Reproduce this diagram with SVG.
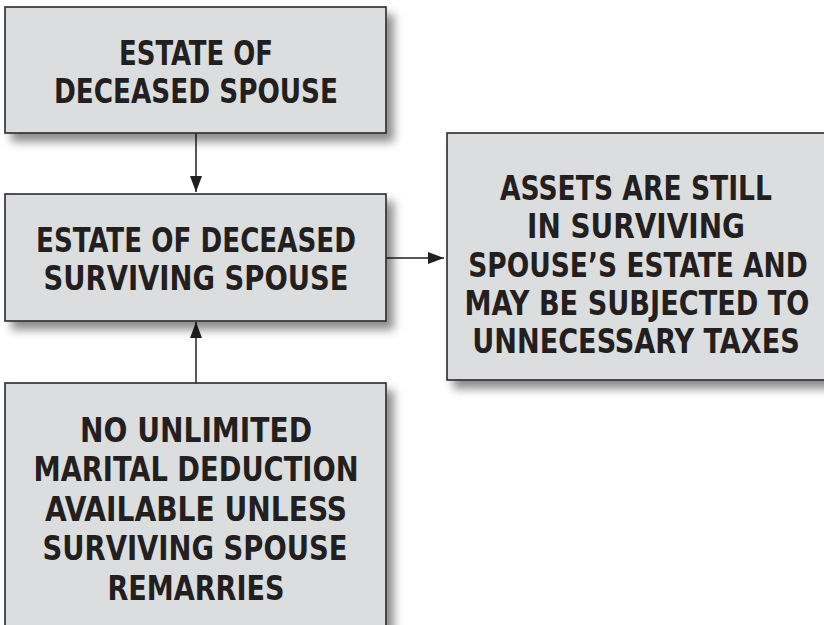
<svg xmlns="http://www.w3.org/2000/svg" width="824" height="625" viewBox="0 0 824 625">
<style>
.box{fill:#dcdddf;stroke:#2b2b2b;stroke-width:1.6;filter:url(#sh)}
.t{font-family:"DejaVu Sans Condensed","DejaVu Sans",sans-serif;font-stretch:condensed;font-weight:bold;font-size:33px;fill:#231f20;text-anchor:middle}
.c{stroke:#231f20;stroke-width:1.5;fill:none;marker-end:url(#ah)}
</style>
<defs>
<filter id="sh" x="-10%" y="-10%" width="130%" height="130%">
<feDropShadow dx="7" dy="8" stdDeviation="5" flood-color="#000" flood-opacity="0.45"/>
</filter>
<marker id="ah" viewBox="0 0 16 12" refX="16" refY="6" markerWidth="16" markerHeight="12" markerUnits="userSpaceOnUse" orient="auto">
<path d="M0,0 L16,6 L0,12 Z" fill="#231f20"/>
</marker>
</defs>
<rect width="824" height="625" fill="#ffffff"/>
<g id="connectors">
<line class="c" x1="196" y1="133" x2="196" y2="192"/>
<line class="c" x1="386" y1="258" x2="444" y2="258"/>
<line class="c" x1="196" y1="383" x2="196" y2="322"/>
</g>
<g id="node-deceased">
<rect class="box" x="5" y="7" width="381" height="126"/>
<text class="t" x="196" y="65" textLength="154" lengthAdjust="spacingAndGlyphs">ESTATE OF</text>
<text class="t" x="196" y="103" textLength="284" lengthAdjust="spacingAndGlyphs">DECEASED SPOUSE</text>
</g>
<g id="node-surviving">
<rect class="box" x="5" y="194" width="381" height="127"/>
<text class="t" x="196" y="252" textLength="320" lengthAdjust="spacingAndGlyphs">ESTATE OF DECEASED</text>
<text class="t" x="196" y="290" textLength="305" lengthAdjust="spacingAndGlyphs">SURVIVING SPOUSE</text>
</g>
<g id="node-assets">
<rect class="box" x="447" y="133" width="390" height="247"/>
<text class="t" x="636" y="200" textLength="272" lengthAdjust="spacingAndGlyphs">ASSETS ARE STILL</text>
<text class="t" x="636" y="238" textLength="218" lengthAdjust="spacingAndGlyphs">IN SURVIVING</text>
<text class="t" transform="translate(638 277) scale(0.88 1)" x="0" y="0" textLength="386" lengthAdjust="spacingAndGlyphs">SPOUSE’S ESTATE AND</text>
<text class="t" transform="translate(637 315) scale(0.88 1)" x="0" y="0" textLength="392" lengthAdjust="spacingAndGlyphs">MAY BE SUBJECTED TO</text>
<text class="t" transform="translate(636 353) scale(0.88 1)" x="0" y="0" textLength="372" lengthAdjust="spacingAndGlyphs">UNNECESSARY TAXES</text>
</g>
<g id="node-nodeduction">
<rect class="box" x="5" y="383" width="381" height="260"/>
<text class="t" x="196" y="442" textLength="232" lengthAdjust="spacingAndGlyphs">NO UNLIMITED</text>
<text class="t" x="196" y="481" textLength="325" lengthAdjust="spacingAndGlyphs">MARITAL DEDUCTION</text>
<text class="t" x="196" y="521" textLength="302" lengthAdjust="spacingAndGlyphs">AVAILABLE UNLESS</text>
<text class="t" x="195" y="560" textLength="305" lengthAdjust="spacingAndGlyphs">SURVIVING SPOUSE</text>
<text class="t" x="196" y="600" textLength="177" lengthAdjust="spacingAndGlyphs">REMARRIES</text>
</g>
</svg>
